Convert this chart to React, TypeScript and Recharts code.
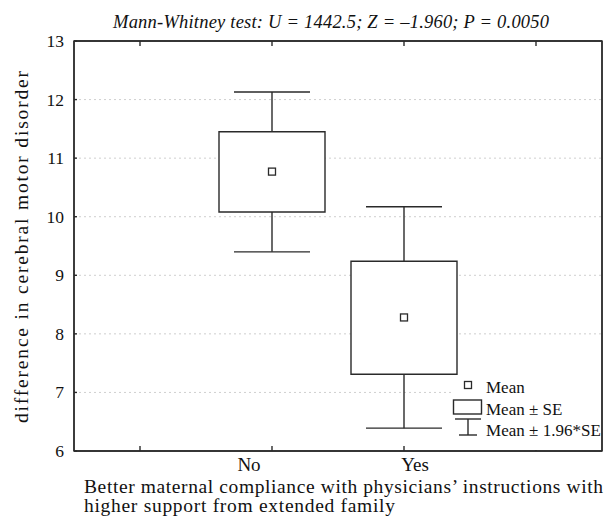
import React from 'react';
import { ComposedChart, Bar, Scatter, XAxis, YAxis, CartesianGrid, Label, ReferenceArea } from 'recharts';

const categories = ['L', 'No', 'Yes', 'R'];
const tickLabels = ['', 'No', 'Yes', ''];
const means = [null, 10.77, 8.28, null];
const seLow = [null, 10.08, 7.31, null];
const seHigh = [null, 11.45, 9.24, null];
const ciLow = [null, 9.4, 6.39, null];
const ciHigh = [null, 12.13, 10.17, null];
const yTicks = [6, 7, 8, 9, 10, 11, 12, 13];

const titleText = 'Mann-Whitney test: U = 1442.5; Z = \u20131.960; P = 0.0050';
const yLabel = 'difference in cerebral motor disorder';
const xLabelLines = [
  'Better maternal compliance with physicians\u2019 instructions with',
  'higher support from extended family',
];
const legendLabels = ['Mean', 'Mean \u00b1 SE', 'Mean \u00b1 1.96*SE'];

const data = categories.map((c, i) => ({
  cat: c,
  mean: means[i],
  se: seLow[i] == null ? null : [seLow[i], seHigh[i]],
  ci: ciLow[i] == null ? null : [ciLow[i], ciHigh[i]],
}));

const FONT = '"Liberation Serif", "Times New Roman", serif';
const INK = '#2a2a2a';
const TXT = '#111';
const SW = 1.4;

const WhiskerShape = (props: any) => {
  const { x, y, width, height } = props;
  if (y == null || height == null || isNaN(y) || isNaN(height)) return null;
  const cx = x + width / 2;
  return (
    <g stroke={INK} strokeWidth={SW}>
      <line x1={cx} x2={cx} y1={y} y2={y + height} />
      <line x1={x} x2={x + width} y1={y} y2={y} />
      <line x1={x} x2={x + width} y1={y + height} y2={y + height} />
    </g>
  );
};

const MeanShape = (props: any) => {
  const { cx, cy } = props;
  if (cx == null || cy == null || isNaN(cy)) return null;
  return <rect x={cx - 3.5} y={cy - 3.5} width={7} height={7} fill="#fff" stroke={INK} strokeWidth={1.3} />;
};

const BottomTick = (props: any) => {
  const { x, y, index } = props;
  const label = tickLabels[index] || '';
  const dx = label === 'No' ? -23 : label === 'Yes' ? 11 : 0;
  return (
    <g>
      <line x1={x} x2={x} y1={y} y2={y - 5} stroke={INK} strokeWidth={SW} />
      <text x={x + dx} y={y + 20} textAnchor="middle" fontFamily={FONT} fontSize={19} fill={TXT}>
        {label}
      </text>
    </g>
  );
};

const TopTick = (props: any) => {
  const { x, y } = props;
  return <line x1={x} x2={x} y1={y} y2={y + 5} stroke={INK} strokeWidth={SW} />;
};

const LeftTick = (props: any) => {
  const { x, y, payload } = props;
  return (
    <g>
      <line x1={x} x2={x + 3} y1={y} y2={y} stroke={INK} strokeWidth={SW} />
      <text x={x - 10} y={y + 6} textAnchor="end" fontFamily={FONT} fontSize={17.5} fill={TXT}>
        {payload.value}
      </text>
    </g>
  );
};

const RightTick = (props: any) => {
  const { x, y } = props;
  return <line x1={x} x2={x - 3} y1={y} y2={y} stroke={INK} strokeWidth={SW} />;
};

export default function App() {
  return (
    <div style={{ position: 'absolute', left: 0, top: 0, width: 607, height: 518, background: '#fff' }}>
      <ComposedChart width={607} height={518} data={data} margin={{ top: 40, right: 4, left: 0, bottom: 0 }}>
        <CartesianGrid
          xAxisId="main"
          yAxisId="l"
          vertical={false}
          stroke="#cfcfcf"
          strokeDasharray="2 3"
        />
        <XAxis
          xAxisId="main"
          dataKey="cat"
          type="category"
          height={67}
          interval={0}
          tickLine={false}
          tickSize={0}
          tickMargin={0}
          axisLine={{ stroke: INK, strokeWidth: SW }}
          tick={<BottomTick />}
        >
          <Label
            content={(p: any) => {
              const vb = p.viewBox || { x: 74, y: 451 };
              return (
                <g>
                  <text
                    x={84}
                    y={vb.y + 42}
                    fontFamily={FONT}
                    fontSize={19.5}
                    fill={TXT}
                    textLength={519}
                    lengthAdjust="spacing"
                  >
                    {xLabelLines[0]}
                  </text>
                  <text
                    x={84}
                    y={vb.y + 61}
                    fontFamily={FONT}
                    fontSize={19.5}
                    fill={TXT}
                    textLength={311}
                    lengthAdjust="spacing"
                  >
                    {xLabelLines[1]}
                  </text>
                </g>
              );
            }}
          />
        </XAxis>
        <XAxis
          xAxisId="top"
          orientation="top"
          dataKey="cat"
          type="category"
          height={1}
          interval={0}
          tickLine={false}
          tickSize={0}
          tickMargin={0}
          axisLine={{ stroke: INK, strokeWidth: SW }}
          tick={<TopTick />}
        />
        <XAxis xAxisId="w" dataKey="cat" type="category" hide height={0} />
        <XAxis xAxisId="b" dataKey="cat" type="category" hide height={0} />
        <YAxis
          yAxisId="l"
          type="number"
          domain={[6, 13]}
          ticks={yTicks}
          interval={0}
          width={74}
          tickLine={false}
          tickSize={0}
          tickMargin={0}
          axisLine={{ stroke: INK, strokeWidth: SW }}
          tick={<LeftTick />}
        >
          <Label
            content={(p: any) => {
              const vb = p.viewBox || { x: 0, y: 41, height: 410 };
              const cx = 21;
              const cy = vb.y + vb.height / 2 + 1;
              return (
                <g>
                  <text
                    x={cx}
                    y={cy}
                    transform={`rotate(-90, ${cx}, ${cy})`}
                    textAnchor="middle"
                    dominantBaseline="central"
                    fontFamily={FONT}
                    fontSize={19.5}
                    fill={TXT}
                    textLength={352}
                    lengthAdjust="spacing"
                  >
                    {yLabel}
                  </text>
                  <text
                    x={113}
                    y={28}
                    fontFamily={FONT}
                    fontStyle="italic"
                    fontSize={18.5}
                    fill={TXT}
                    textLength={436}
                    lengthAdjust="spacing"
                  >
                    {titleText}
                  </text>
                </g>
              );
            }}
          />
        </YAxis>
        <YAxis
          yAxisId="r"
          orientation="right"
          type="number"
          domain={[6, 13]}
          ticks={yTicks}
          interval={0}
          width={1}
          tickLine={false}
          tickSize={0}
          tickMargin={0}
          axisLine={{ stroke: INK, strokeWidth: SW }}
          tick={<RightTick />}
        />
        <ReferenceArea
          xAxisId="main"
          yAxisId="l"
          y1={6}
          y2={13}
          fill="none"
          fillOpacity={0}
          stroke={INK}
          strokeWidth={SW}
          ifOverflow="visible"
        />
        <Bar
          xAxisId="w"
          yAxisId="l"
          dataKey="ci"
          barSize={76}
          isAnimationActive={false}
          shape={<WhiskerShape />}
        />
        <Bar
          xAxisId="b"
          yAxisId="l"
          dataKey="se"
          barSize={106}
          fill="#fff"
          stroke={INK}
          strokeWidth={SW}
          isAnimationActive={false}
        />
        <Scatter
          xAxisId="main"
          yAxisId="l"
          dataKey="mean"
          isAnimationActive={false}
          shape={<MeanShape />}
        />
      </ComposedChart>
      <div
        style={{ position: 'absolute', left: 452, top: 376, width: 149, height: 74, background: '#fff' }}
      >
        <svg width={149} height={74}>
          <rect x={12.5} y={5.5} width={7} height={7} fill="#fff" stroke={INK} strokeWidth={1.3} />
          <text x={34} y={17} fontFamily={FONT} fontSize={17} fill={TXT}>{legendLabels[0]}</text>
          <rect x={1.5} y={24} width={28} height={14} fill="#fff" stroke={INK} strokeWidth={SW} />
          <text x={34} y={39} fontFamily={FONT} fontSize={17} fill={TXT}>{legendLabels[1]}</text>
          <g stroke={INK} strokeWidth={SW}>
            <line x1={3} x2={29} y1={43} y2={43} />
            <line x1={16} x2={16} y1={43} y2={59} />
            <line x1={7} x2={25} y1={59} y2={59} />
          </g>
          <text x={34} y={60} fontFamily={FONT} fontSize={17} textLength={115} lengthAdjust="spacing" fill={TXT}>{legendLabels[2]}</text>
        </svg>
      </div>
    </div>
  );
}
